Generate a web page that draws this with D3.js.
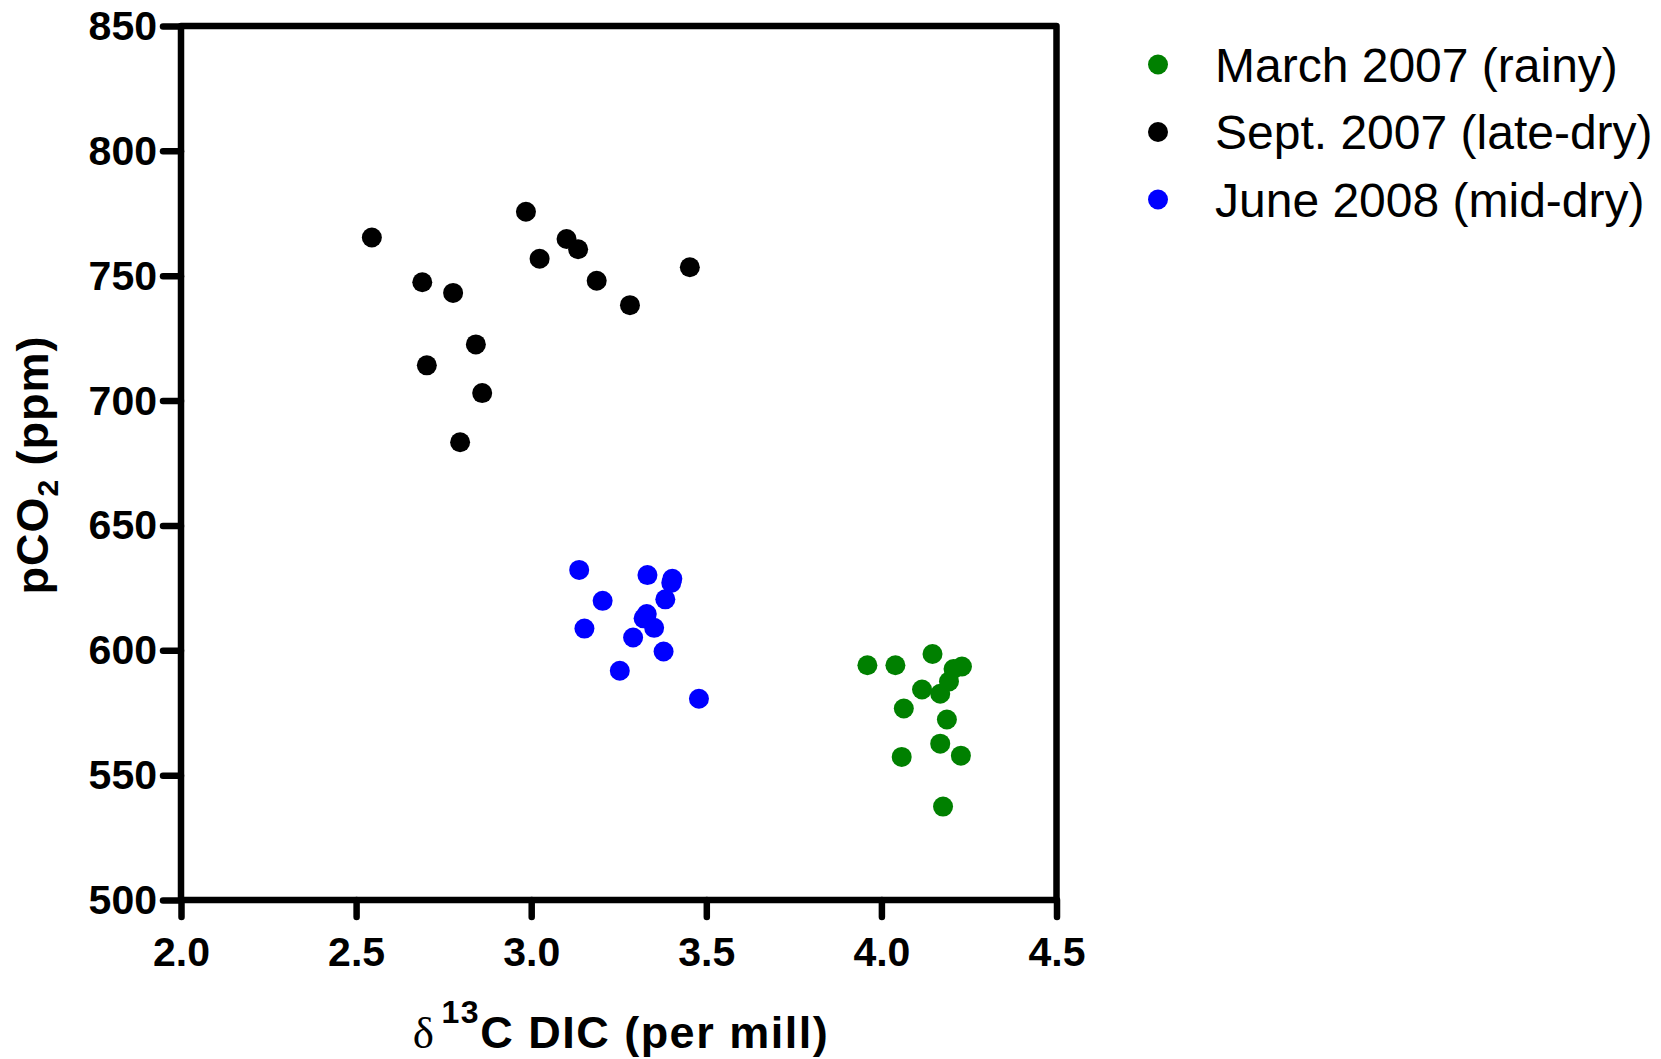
<!doctype html>
<html lang="en">
<head>
<meta charset="UTF-8">
<title>pCO2 vs d13C DIC</title>
<style>
  html, body { margin: 0; padding: 0; background: #fff; }
  svg { display: block; }
  text { font-family: "Liberation Sans", Arial, sans-serif; }
</style>
</head>
<body>
<svg id="chart" width="1661" height="1059"></svg>
<script src="https://cdn.jsdelivr.net/npm/d3@7/dist/d3.min.js"></script>
<script>
// series values
const marchX = [3.96, 4.04, 4.146, 4.206, 4.23, 4.193, 4.116, 4.168, 4.064, 4.187, 4.168, 4.227, 4.058, 4.176];
const marchY = [594, 594, 598.5, 592.5, 593.5, 587.5, 584.3, 582.6, 576.7, 572.3, 562.6, 557.8, 557.3, 537.4];

const septX = [2.545, 2.985, 2.689, 2.777, 3.101, 3.134, 3.024, 3.453, 3.187, 3.282, 2.842, 2.702, 2.86, 2.797];
const septY = [765.3, 775.6, 747.4, 743.1, 764.7, 760.6, 756.8, 753.4, 748, 738.2, 722.5, 714.1, 703, 683.3];

const juneX = [3.137, 3.332, 3.403, 3.4, 3.204, 3.383, 3.33, 3.321, 3.351, 3.152, 3.291, 3.378, 3.253, 3.479];
const juneY = [632.2, 630.1, 628.6, 627, 619.8, 620.4, 614.5, 612.8, 609, 608.7, 605.1, 599.5, 591.8, 580.6];

const seriesNames = ["March 2007 (rainy)", "Sept. 2007 (late-dry)", "June 2008 (mid-dry)"];
const xTicks = [2.0, 2.5, 3.0, 3.5, 4.0, 4.5];
const yTicks = [500, 550, 600, 650, 700, 750, 800, 850];

const colors = ["#008000", "#000000", "#0000ff"];

const series = [
  { name: seriesNames[0], color: colors[0], pts: marchX.map((x, i) => ({ x, y: marchY[i] })) },
  { name: seriesNames[1], color: colors[1], pts: septX.map((x, i) => ({ x, y: septY[i] })) },
  { name: seriesNames[2], color: colors[2], pts: juneX.map((x, i) => ({ x, y: juneY[i] })) }
];

const margin = { left: 181, top: 26, right: 1056.5, bottom: 900 };
const lineW = 6.5;

const svg = d3.select("#chart");

const x = d3.scaleLinear().domain([2.0, 4.5]).range([margin.left, margin.right]);
const y = d3.scaleLinear().domain([500, 850]).range([margin.bottom, margin.top]);

// dots first, frame drawn over them
const dots = svg.append("g");
series.forEach(s => {
  dots.append("g")
    .selectAll("circle")
    .data(s.pts)
    .enter()
    .append("circle")
    .attr("cx", d => x(d.x))
    .attr("cy", d => y(d.y))
    .attr("r", 10)
    .attr("fill", s.color);
});

// frame (top and right edges closing the box)
svg.append("rect")
  .attr("x", margin.left)
  .attr("y", margin.top)
  .attr("width", margin.right - margin.left)
  .attr("height", margin.bottom - margin.top)
  .attr("fill", "none")
  .attr("stroke", "#000")
  .attr("stroke-width", lineW)
  .attr("stroke-linejoin", "round");

const xAxis = svg.append("g")
  .attr("transform", `translate(0,${margin.bottom})`)
  .call(d3.axisBottom(x).tickValues(xTicks).tickFormat(d3.format(".1f")).tickSize(17).tickSizeOuter(0).tickPadding(20));

const yAxis = svg.append("g")
  .attr("transform", `translate(${margin.left},0)`)
  .call(d3.axisLeft(y).tickValues(yTicks).tickFormat(d3.format("d")).tickSize(18).tickSizeOuter(0).tickPadding(6));

[xAxis, yAxis].forEach(g => {
  g.select(".domain").remove();
  g.selectAll(".tick line")
    .attr("stroke", "#000")
    .attr("stroke-width", lineW)
    .attr("stroke-linecap", "round");
  g.selectAll(".tick text")
    .attr("fill", "#000")
    .style("font-size", "41px")
    .style("font-weight", "bold");
});
yAxis.selectAll(".tick text").attr("dy", "0.33em");

// y axis title: pCO2 (ppm)
const yTitle = svg.append("text")
  .attr("transform", "translate(48,465) rotate(-90)")
  .attr("text-anchor", "middle")
  .style("font-size", "45px")
  .style("font-weight", "bold")
  .style("letter-spacing", "1px");
yTitle.append("tspan").text("pCO");
yTitle.append("tspan").attr("dy", 10).style("font-size", "30px").text("2");
yTitle.append("tspan").attr("dy", -10).text(" (ppm)");

// x axis title: δ13C DIC (per mill)
const xTitle = svg.append("text")
  .attr("x", 621)
  .attr("y", 1048)
  .attr("text-anchor", "middle")
  .style("font-size", "45px")
  .style("font-weight", "bold")
  .style("letter-spacing", "1.5px");
xTitle.append("tspan")
  .style("font-family", "'Liberation Serif', 'DejaVu Serif', serif")
  .style("font-weight", "normal")
  .text("\u03b4");
xTitle.append("tspan").attr("dx", 6).attr("dy", -25).style("font-size", "32px").text("13");
xTitle.append("tspan").attr("dy", 25).text("C DIC (per mill)");

// legend
const legend = svg.append("g")
  .selectAll("g")
  .data(series)
  .enter()
  .append("g")
  .attr("transform", (d, i) => `translate(1158,${64.5 + i * 67.5})`);

legend.append("circle")
  .attr("r", 10)
  .attr("fill", d => d.color);

legend.append("text")
  .attr("x", 57)
  .attr("y", 17)
  .style("font-size", "48px")
  .text(d => d.name);
</script>
</body>
</html>
